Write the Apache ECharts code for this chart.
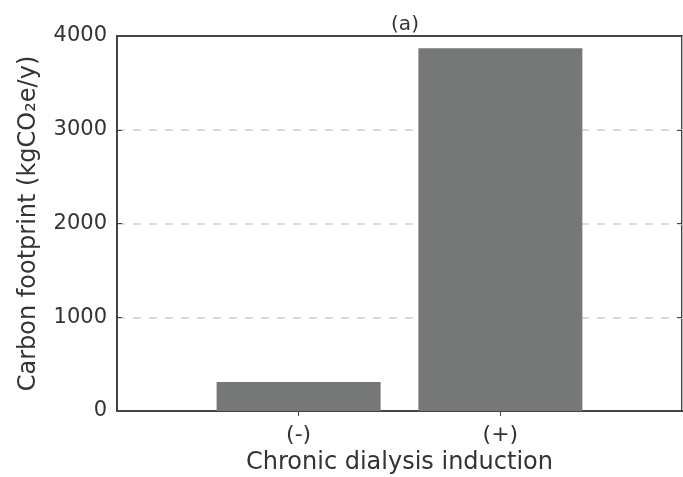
<!DOCTYPE html>
<html>
<head>
<meta charset="utf-8">
<script src="https://cdn.jsdelivr.net/npm/echarts@6/dist/echarts.min.js"></script>
<style>
html, body { margin: 0; padding: 0; background: #fff; }
#chart { width: 683px; height: 477px; }
</style>
</head>
<body>
<div id="chart"></div>
<script>
// bar positions (MATLAB style x = 1, 2) and values
var positions = [1, 2];
var labels = ['(-)', '(+)'];
var values = [310, 3870];

var chart = echarts.init(document.getElementById('chart'));
var font = 'DejaVu Sans';
var axisColor = '#444';
var textColor = '#333';

var option = {
    animation: false,
    title: {
        text: '(a)',
        left: 400,
        top: 10,
        textAlign: 'center',
        textStyle: { fontFamily: font, fontSize: 20, fontWeight: 'normal', color: textColor }
    },
    grid: {
        left: 117, right: 1, top: 36, bottom: 66,
        outerBoundsMode: 'none',
        show: true,
        borderColor: axisColor,
        borderWidth: 2
    },
    xAxis: [{
        type: 'value',
        min: 0.1,
        max: 2.9,
        name: 'Chronic dialysis induction',
        nameLocation: 'middle',
        nameGap: 40,
        nameTextStyle: { fontFamily: font, fontSize: 24, color: textColor },
        axisLine: { show: true, lineStyle: { color: axisColor, width: 2 } },
        axisTick: { show: true, inside: true, length: 5, customValues: positions, lineStyle: { color: axisColor } },
        axisLabel: {
            customValues: positions,
            margin: 13,
            fontFamily: font, fontSize: 22, color: textColor,
            formatter: function (v) { return labels[positions.indexOf(v)] || ''; }
        },
        splitLine: { show: false }
    }, {
        type: 'value',
        position: 'top',
        min: 0.1,
        max: 2.9,
        axisLine: { show: true, lineStyle: { color: axisColor, width: 2 } },
        axisTick: { show: true, inside: true, length: 5, customValues: positions, lineStyle: { color: axisColor } },
        axisLabel: { show: false },
        splitLine: { show: false }
    }],
    yAxis: [{
        type: 'value',
        min: 0,
        max: 4000,
        interval: 1000,
        name: 'Carbon footprint (kgCO\u2082e/y)',
        nameLocation: 'middle',
        nameGap: 76,
        nameTextStyle: { fontFamily: font, fontSize: 24, color: textColor },
        axisLine: { show: true, lineStyle: { color: axisColor, width: 2 } },
        axisTick: { show: true, inside: true, length: 5, lineStyle: { color: axisColor } },
        axisLabel: {
            margin: 10, fontFamily: font, fontSize: 21, color: textColor,
            formatter: function (v) { return String(v); }
        },
        splitLine: {
            show: true, showMinLine: false, showMaxLine: false,
            lineStyle: { color: '#d0d0d0', type: [8, 8], width: 1.5 }
        }
    }, {
        type: 'value',
        position: 'right',
        min: 0,
        max: 4000,
        interval: 1000,
        axisLine: { show: true, lineStyle: { color: '#bbb', width: 1 } },
        axisTick: { show: true, inside: true, length: 5, lineStyle: { color: axisColor } },
        axisLabel: { show: false },
        splitLine: { show: false }
    }],
    series: [{
        type: 'bar',
        barWidth: 164,
        itemStyle: { color: '#767877' },
        data: positions.map(function (p, i) { return [p, values[i]]; })
    }]
};
chart.setOption(option);
</script>
</body>
</html>
